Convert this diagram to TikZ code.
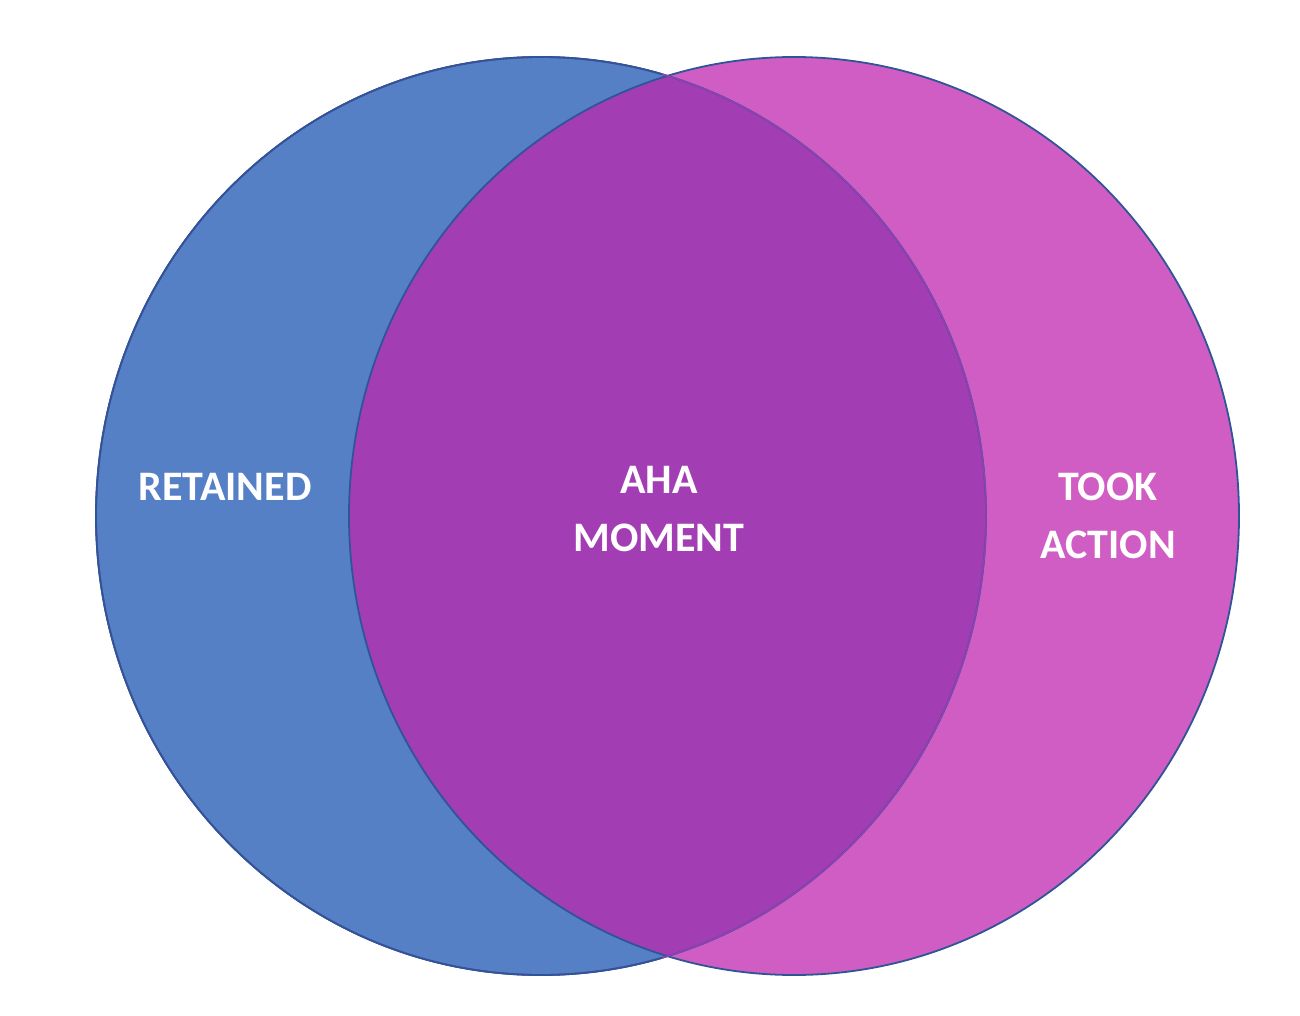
\documentclass[tikz,border=0pt]{standalone}
\usepackage{fontspec}
\setmainfont{Carlito}
\definecolor{lblue}{HTML}{5580C6}
\definecolor{rpink}{HTML}{CF5DC4}
\definecolor{mid}{HTML}{A33DB3}
\definecolor{edge}{HTML}{2F5597}
\tikzset{lab/.style={text=white,font=\bfseries\fontsize{42}{58}\selectfont,align=center}}
\begin{document}
\begin{tikzpicture}[x=1pt,y=-1pt]
\useasboundingbox (0,0) rectangle (1300,1016);
\fill[lblue] (541,516) ellipse [x radius=445,y radius=459];
\fill[rpink] (794,516) ellipse [x radius=445,y radius=459];
\begin{scope}
\clip (541,516) ellipse [x radius=445,y radius=459];
\fill[mid] (794,516) ellipse [x radius=445,y radius=459];
\end{scope}
\draw[edge,line width=1.8pt] (541,516) ellipse [x radius=445,y radius=459];
\draw[edge,line width=1.8pt] (794,516) ellipse [x radius=445,y radius=459];
\draw[mid!85!edge,line width=1.5pt] (541,516) ellipse [x radius=445,y radius=459];
\begin{scope}
\clip (0,0) rectangle (662,1016);
\draw[edge,line width=1.8pt] (541,516) ellipse [x radius=445,y radius=459];
\end{scope}
\node[lab] (l) at (225,487) {RETAINED};
\node[lab] (m) at (659,509) {AHA\\MOMENT};
\node[lab] (r) at (1108,516) {TOOK\\ACTION};
\end{tikzpicture}
\end{document}
